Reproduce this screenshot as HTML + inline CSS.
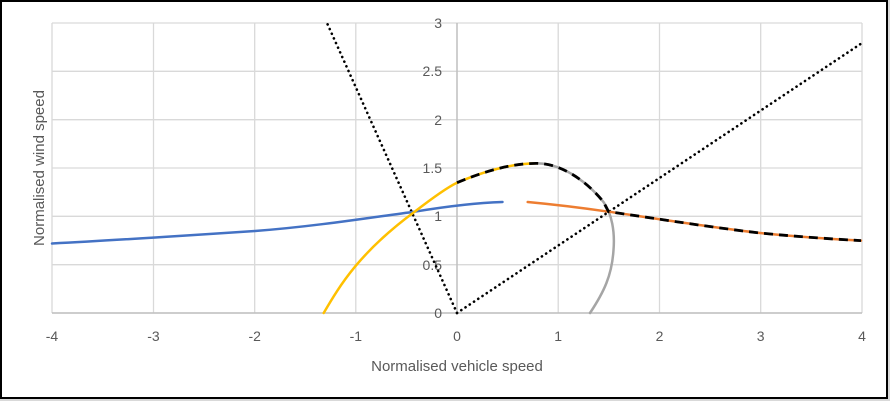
<!DOCTYPE html>
<html><head><style>
html,body{margin:0;padding:0;background:#fff;}
body{width:890px;height:401px;overflow:hidden;position:relative;font-family:"Liberation Sans",sans-serif;}
</style></head><body>
<svg width="890" height="401" viewBox="0 0 890 401" xmlns="http://www.w3.org/2000/svg" style="position:absolute;left:0;top:0">
<rect x="0" y="0" width="890" height="401" fill="#d9d9d9"/>
<rect x="1" y="1" width="886" height="397" fill="#fff" stroke="#000" stroke-width="2"/>
<g stroke="#d9d9d9" stroke-width="1.3">
<line x1="52" y1="23" x2="862" y2="23"/>
<line x1="52" y1="71.3" x2="862" y2="71.3"/>
<line x1="52" y1="119.7" x2="862" y2="119.7"/>
<line x1="52" y1="168" x2="862" y2="168"/>
<line x1="52" y1="216.3" x2="862" y2="216.3"/>
<line x1="52" y1="264.7" x2="862" y2="264.7"/>
<line x1="52" y1="313" x2="862" y2="313"/>
<line x1="52" y1="23" x2="52" y2="313"/>
<line x1="153.5" y1="23" x2="153.5" y2="313"/>
<line x1="254.7" y1="23" x2="254.7" y2="313"/>
<line x1="355.8" y1="23" x2="355.8" y2="313"/>
<line x1="558.2" y1="23" x2="558.2" y2="313"/>
<line x1="659.5" y1="23" x2="659.5" y2="313"/>
<line x1="760.7" y1="23" x2="760.7" y2="313"/>
<line x1="862" y1="23" x2="862" y2="313"/>
</g>
<line x1="457" y1="23" x2="457" y2="313" stroke="#bfbfbf" stroke-width="1.5"/>
<line x1="52" y1="313" x2="862" y2="313" stroke="#bfbfbf" stroke-width="1.5"/>
<g font-size="14" fill="#595959" text-anchor="end">
<text x="442" y="318">0</text>
<text x="442" y="270">0.5</text>
<text x="442" y="221">1</text>
<text x="442" y="173">1.5</text>
<text x="442" y="125">2</text>
<text x="442" y="76">2.5</text>
<text x="442" y="28">3</text>
</g>
<g font-size="14" fill="#595959" text-anchor="middle">
<text x="52" y="341">-4</text>
<text x="153.5" y="341">-3</text>
<text x="254.7" y="341">-2</text>
<text x="355.8" y="341">-1</text>
<text x="457" y="341">0</text>
<text x="558.2" y="341">1</text>
<text x="659.5" y="341">2</text>
<text x="760.7" y="341">3</text>
<text x="862" y="341">4</text>
</g>
<text x="457" y="371" font-size="15" fill="#595959" text-anchor="middle">Normalised vehicle speed</text>
<text transform="translate(44,168) rotate(-90)" font-size="15" fill="#595959" text-anchor="middle">Normalised wind speed</text>
<g fill="none" stroke-linecap="round" stroke-linejoin="round">
<line x1="457" y1="313" x2="327" y2="23" stroke="#000" stroke-width="2.6" stroke-dasharray="0.1 5"/>
<line x1="457" y1="313" x2="862" y2="43" stroke="#000" stroke-width="2.6" stroke-dasharray="0.1 5"/>
<path d="M52,243.5 C120,240 180,236 255,231 C320,226 380,216 414.6,211.7 C440,207.5 470,203 502.5,202" stroke="#4472c4" stroke-width="2.5"/>
<path d="M323.7,313 C340,285 360,252 414.6,211.7 C435,196 450,186 457,182.7 C480,173 510,163 537.8,163.4" stroke="#ffc000" stroke-width="2.5"/>
<path d="M537.8,163.4 C565,164 590,185 603.5,202 C612,214 615,232 613.5,250 C612,275 604,292 590,313" stroke="#a5a5a5" stroke-width="2.5"/>
<path d="M527.7,202 C560,205 590,209 608.5,211.7 C640,216 700,226 760,233 C800,237 840,239.5 861,240.6" stroke="#ed7d31" stroke-width="2.5"/>
<path d="M457,182.7 C480,173 510,163 537.8,163.4 C565,164 590,185 603.5,202 L608.5,211.7 C640,216 700,226 760,233 C800,237 840,239.5 861,240.6" stroke="#000" stroke-width="2.8" stroke-dasharray="9 6" stroke-linecap="butt"/>
</g>
</svg>
</body></html>
